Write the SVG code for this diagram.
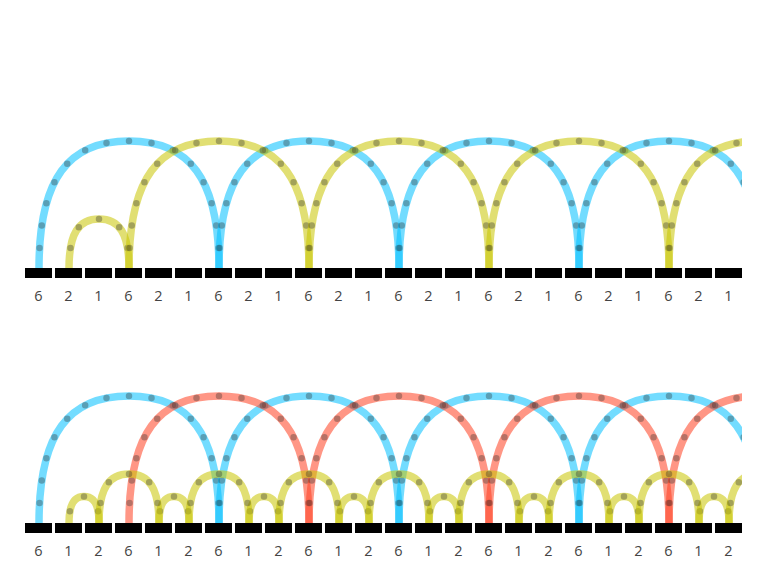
<svg xmlns="http://www.w3.org/2000/svg" xmlns:xlink="http://www.w3.org/1999/xlink" width="768" height="576" viewBox="0 0 768 576">
<style>
.blk{fill:#000}
.lbl{font-family:"Open Sans","Liberation Sans",sans-serif;font-size:14.5px;fill:#444;text-anchor:middle}
</style>
<defs>
<clipPath id="clip"><rect x="0" y="0" width="742" height="576"/></clipPath>
<g id="big">
<path d="M0,4V0C0,-90 30,-127 90,-127C150,-127 180,-90 180,0V4" fill="none" stroke="currentColor" stroke-width="7.5" stroke-opacity="0.55"/>
<path d="M90,-127C30,-127 0,-90 0,0" fill="none" stroke="#282828" stroke-opacity="0.34" stroke-width="6.5" stroke-linecap="round" stroke-dasharray="0 22.6"/>
<path d="M90,-127C150,-127 180,-90 180,0" fill="none" stroke="#282828" stroke-opacity="0.34" stroke-width="6.5" stroke-linecap="round" stroke-dasharray="0 22.6" stroke-dashoffset="0.01"/>
</g>
<g id="med">
<path d="M0,4V0C0,-35 10,-49 30,-49C50,-49 60,-35 60,0V4" fill="none" stroke="currentColor" stroke-width="7.5" stroke-opacity="0.55"/>
<path d="M30,-49C10,-49 0,-35 0,0" fill="none" stroke="#282828" stroke-opacity="0.34" stroke-width="6.5" stroke-linecap="round" stroke-dasharray="0 22.6"/>
<path d="M30,-49C50,-49 60,-35 60,0" fill="none" stroke="#282828" stroke-opacity="0.34" stroke-width="6.5" stroke-linecap="round" stroke-dasharray="0 22.6" stroke-dashoffset="0.01"/>
</g>
<g id="sml">
<path d="M0,4V0C0,-18.8 5,-26.5 15,-26.5C25,-26.5 30,-18.8 30,0V4" fill="none" stroke="currentColor" stroke-width="7.5" stroke-opacity="0.55"/>
<path d="M15,-26.5C5,-26.5 0,-18.8 0,0" fill="none" stroke="#282828" stroke-opacity="0.34" stroke-width="6.5" stroke-linecap="round" stroke-dasharray="0 22.6"/>
<path d="M15,-26.5C25,-26.5 30,-18.8 30,0" fill="none" stroke="#282828" stroke-opacity="0.34" stroke-width="6.5" stroke-linecap="round" stroke-dasharray="0 22.6" stroke-dashoffset="0.01"/>
</g>
</defs>
<rect width="768" height="576" fill="#fff"/>
<g id="connectors" clip-path="url(#clip)">
<g id="top-arcs">
<use xlink:href="#big" x="39" y="268" color="#00bfff"/>
<use xlink:href="#big" x="219" y="268" color="#00bfff"/>
<use xlink:href="#big" x="399" y="268" color="#00bfff"/>
<use xlink:href="#big" x="579" y="268" color="#00bfff"/>
<use xlink:href="#med" x="69" y="268" color="#c8c400"/>
<use xlink:href="#big" x="129" y="268" color="#c8c400"/>
<use xlink:href="#big" x="309" y="268" color="#c8c400"/>
<use xlink:href="#big" x="489" y="268" color="#c8c400"/>
<use xlink:href="#big" x="669" y="268" color="#c8c400"/>
</g>
<g id="bottom-arcs">
<use xlink:href="#big" x="39" y="523" color="#00bfff"/>
<use xlink:href="#big" x="219" y="523" color="#00bfff"/>
<use xlink:href="#big" x="399" y="523" color="#00bfff"/>
<use xlink:href="#big" x="579" y="523" color="#00bfff"/>
<use xlink:href="#big" x="129" y="523" color="#ff4020"/>
<use xlink:href="#big" x="309" y="523" color="#ff4020"/>
<use xlink:href="#big" x="489" y="523" color="#ff4020"/>
<use xlink:href="#big" x="669" y="523" color="#ff4020"/>
<use xlink:href="#sml" x="69" y="523" color="#c8c400"/>
<use xlink:href="#sml" x="159" y="523" color="#c8c400"/>
<use xlink:href="#sml" x="249" y="523" color="#c8c400"/>
<use xlink:href="#sml" x="339" y="523" color="#c8c400"/>
<use xlink:href="#sml" x="429" y="523" color="#c8c400"/>
<use xlink:href="#sml" x="519" y="523" color="#c8c400"/>
<use xlink:href="#sml" x="609" y="523" color="#c8c400"/>
<use xlink:href="#sml" x="699" y="523" color="#c8c400"/>
<use xlink:href="#med" x="99" y="523" color="#c8c400"/>
<use xlink:href="#med" x="189" y="523" color="#c8c400"/>
<use xlink:href="#med" x="279" y="523" color="#c8c400"/>
<use xlink:href="#med" x="369" y="523" color="#c8c400"/>
<use xlink:href="#med" x="459" y="523" color="#c8c400"/>
<use xlink:href="#med" x="549" y="523" color="#c8c400"/>
<use xlink:href="#med" x="639" y="523" color="#c8c400"/>
<use xlink:href="#med" x="729" y="523" color="#c8c400"/>
</g>
</g>
<g id="top-row">
<g id="t0"><rect class="blk" x="25" y="268" width="27" height="10"/><text class="lbl" x="38.5" y="301">6</text></g>
<g id="t1"><rect class="blk" x="55" y="268" width="27" height="10"/><text class="lbl" x="68.5" y="301">2</text></g>
<g id="t2"><rect class="blk" x="85" y="268" width="27" height="10"/><text class="lbl" x="98.5" y="301">1</text></g>
<g id="t3"><rect class="blk" x="115" y="268" width="27" height="10"/><text class="lbl" x="128.5" y="301">6</text></g>
<g id="t4"><rect class="blk" x="145" y="268" width="27" height="10"/><text class="lbl" x="158.5" y="301">2</text></g>
<g id="t5"><rect class="blk" x="175" y="268" width="27" height="10"/><text class="lbl" x="188.5" y="301">1</text></g>
<g id="t6"><rect class="blk" x="205" y="268" width="27" height="10"/><text class="lbl" x="218.5" y="301">6</text></g>
<g id="t7"><rect class="blk" x="235" y="268" width="27" height="10"/><text class="lbl" x="248.5" y="301">2</text></g>
<g id="t8"><rect class="blk" x="265" y="268" width="27" height="10"/><text class="lbl" x="278.5" y="301">1</text></g>
<g id="t9"><rect class="blk" x="295" y="268" width="27" height="10"/><text class="lbl" x="308.5" y="301">6</text></g>
<g id="t10"><rect class="blk" x="325" y="268" width="27" height="10"/><text class="lbl" x="338.5" y="301">2</text></g>
<g id="t11"><rect class="blk" x="355" y="268" width="27" height="10"/><text class="lbl" x="368.5" y="301">1</text></g>
<g id="t12"><rect class="blk" x="385" y="268" width="27" height="10"/><text class="lbl" x="398.5" y="301">6</text></g>
<g id="t13"><rect class="blk" x="415" y="268" width="27" height="10"/><text class="lbl" x="428.5" y="301">2</text></g>
<g id="t14"><rect class="blk" x="445" y="268" width="27" height="10"/><text class="lbl" x="458.5" y="301">1</text></g>
<g id="t15"><rect class="blk" x="475" y="268" width="27" height="10"/><text class="lbl" x="488.5" y="301">6</text></g>
<g id="t16"><rect class="blk" x="505" y="268" width="27" height="10"/><text class="lbl" x="518.5" y="301">2</text></g>
<g id="t17"><rect class="blk" x="535" y="268" width="27" height="10"/><text class="lbl" x="548.5" y="301">1</text></g>
<g id="t18"><rect class="blk" x="565" y="268" width="27" height="10"/><text class="lbl" x="578.5" y="301">6</text></g>
<g id="t19"><rect class="blk" x="595" y="268" width="27" height="10"/><text class="lbl" x="608.5" y="301">2</text></g>
<g id="t20"><rect class="blk" x="625" y="268" width="27" height="10"/><text class="lbl" x="638.5" y="301">1</text></g>
<g id="t21"><rect class="blk" x="655" y="268" width="27" height="10"/><text class="lbl" x="668.5" y="301">6</text></g>
<g id="t22"><rect class="blk" x="685" y="268" width="27" height="10"/><text class="lbl" x="698.5" y="301">2</text></g>
<g id="t23"><rect class="blk" x="715" y="268" width="27" height="10"/><text class="lbl" x="728.5" y="301">1</text></g>
</g>
<g id="bottom-row">
<g id="b0"><rect class="blk" x="25" y="523" width="27" height="10"/><text class="lbl" x="38.5" y="556">6</text></g>
<g id="b1"><rect class="blk" x="55" y="523" width="27" height="10"/><text class="lbl" x="68.5" y="556">1</text></g>
<g id="b2"><rect class="blk" x="85" y="523" width="27" height="10"/><text class="lbl" x="98.5" y="556">2</text></g>
<g id="b3"><rect class="blk" x="115" y="523" width="27" height="10"/><text class="lbl" x="128.5" y="556">6</text></g>
<g id="b4"><rect class="blk" x="145" y="523" width="27" height="10"/><text class="lbl" x="158.5" y="556">1</text></g>
<g id="b5"><rect class="blk" x="175" y="523" width="27" height="10"/><text class="lbl" x="188.5" y="556">2</text></g>
<g id="b6"><rect class="blk" x="205" y="523" width="27" height="10"/><text class="lbl" x="218.5" y="556">6</text></g>
<g id="b7"><rect class="blk" x="235" y="523" width="27" height="10"/><text class="lbl" x="248.5" y="556">1</text></g>
<g id="b8"><rect class="blk" x="265" y="523" width="27" height="10"/><text class="lbl" x="278.5" y="556">2</text></g>
<g id="b9"><rect class="blk" x="295" y="523" width="27" height="10"/><text class="lbl" x="308.5" y="556">6</text></g>
<g id="b10"><rect class="blk" x="325" y="523" width="27" height="10"/><text class="lbl" x="338.5" y="556">1</text></g>
<g id="b11"><rect class="blk" x="355" y="523" width="27" height="10"/><text class="lbl" x="368.5" y="556">2</text></g>
<g id="b12"><rect class="blk" x="385" y="523" width="27" height="10"/><text class="lbl" x="398.5" y="556">6</text></g>
<g id="b13"><rect class="blk" x="415" y="523" width="27" height="10"/><text class="lbl" x="428.5" y="556">1</text></g>
<g id="b14"><rect class="blk" x="445" y="523" width="27" height="10"/><text class="lbl" x="458.5" y="556">2</text></g>
<g id="b15"><rect class="blk" x="475" y="523" width="27" height="10"/><text class="lbl" x="488.5" y="556">6</text></g>
<g id="b16"><rect class="blk" x="505" y="523" width="27" height="10"/><text class="lbl" x="518.5" y="556">1</text></g>
<g id="b17"><rect class="blk" x="535" y="523" width="27" height="10"/><text class="lbl" x="548.5" y="556">2</text></g>
<g id="b18"><rect class="blk" x="565" y="523" width="27" height="10"/><text class="lbl" x="578.5" y="556">6</text></g>
<g id="b19"><rect class="blk" x="595" y="523" width="27" height="10"/><text class="lbl" x="608.5" y="556">1</text></g>
<g id="b20"><rect class="blk" x="625" y="523" width="27" height="10"/><text class="lbl" x="638.5" y="556">2</text></g>
<g id="b21"><rect class="blk" x="655" y="523" width="27" height="10"/><text class="lbl" x="668.5" y="556">6</text></g>
<g id="b22"><rect class="blk" x="685" y="523" width="27" height="10"/><text class="lbl" x="698.5" y="556">1</text></g>
<g id="b23"><rect class="blk" x="715" y="523" width="27" height="10"/><text class="lbl" x="728.5" y="556">2</text></g>
</g>
</svg>
